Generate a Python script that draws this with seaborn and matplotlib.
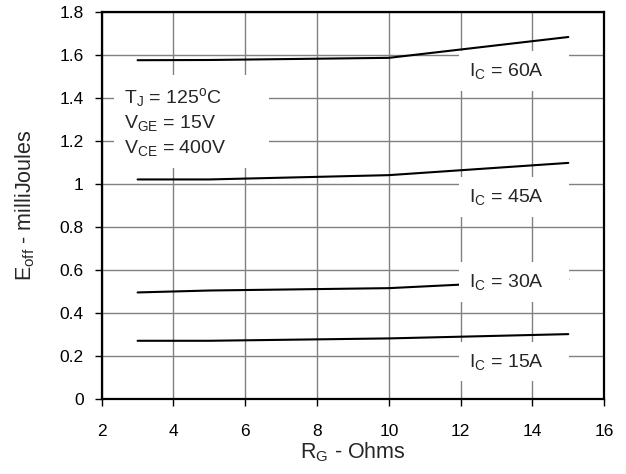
import pandas as pd
import seaborn as sb
import matplotlib.pyplot as plt

# gate resistance points and Eoff curves (mJ) per collector current
rg = [3, 5, 10, 15]
eoff_60 = [1.577, 1.578, 1.588, 1.685]
eoff_45 = [1.022, 1.022, 1.042, 1.099]
eoff_30 = [0.496, 0.505, 0.516, 0.557]
eoff_15 = [0.271, 0.271, 0.282, 0.302]

curve_names = ['60A', '45A', '30A', '15A']
label_y = [1.526, 0.941, 0.544, 0.174]

x_ticks = [2, 4, 6, 8, 10, 12, 14, 16]
y_ticks = [0, 0.2, 0.4, 0.6, 0.8, 1, 1.2, 1.4, 1.6, 1.8]
y_tick_labels = ['0', '0.2', '0.4', '0.6', '0.8', '1', '1.2', '1.4', '1.6', '1.8']

rows = []
for name, vals in zip(curve_names, [eoff_60, eoff_45, eoff_30, eoff_15]):
    for x, v in zip(rg, vals):
        rows.append({'rg': x, 'eoff': v, 'ic': name})
df = pd.DataFrame(rows)

sb.set_style('white')
plt.rcParams['font.family'] = ['Liberation Sans', 'DejaVu Sans']
plt.rcParams['mathtext.fontset'] = 'custom'
plt.rcParams['mathtext.rm'] = 'Liberation Sans'
plt.rcParams['mathtext.it'] = 'Liberation Sans'

fig = plt.figure(figsize=(6.26, 4.74), dpi=100)
ax = fig.add_axes([101.7 / 626, 1 - 399 / 474, 502.5 / 626, 386.7 / 474])

ax.grid(True, color='#808080', linewidth=1)
ax.set_axisbelow(True)

sb.lineplot(data=df, x='rg', y='eoff', hue='ic', units='ic', estimator=None,
            palette=['black'] * 4, linewidth=1.5, legend=False, ax=ax, zorder=2)

# white boxes behind the curve labels hide the grid like in the datasheet
box = dict(facecolor='white', edgecolor='none', boxstyle='square,pad=0.5')
for name, yy in zip(curve_names, label_y):
    ax.text(12.22, yy, r'I$_{\rm C}$ = ' + name + '    ', fontsize=14, va='center',
            ha='left', bbox=box, zorder=3)

ax.text(2.62, 1.29,
        'T$_{\\rm J}$ = 125$^{\\rm o}$C\nV$_{\\rm GE}$ = 15V\nV$_{\\rm CE}$ = 400V       ',
        fontsize=14, va='center', ha='left', linespacing=1.3,
        bbox=dict(facecolor='white', edgecolor='none', boxstyle='square,pad=0.5'),
        zorder=3)

ax.set_xlim(2, 16)
ax.set_ylim(0, 1.8)
ax.set_xticks(x_ticks)
ax.set_yticks(y_ticks)
ax.set_yticklabels(y_tick_labels)
ax.tick_params(axis='both', labelsize=12.5, length=5, width=1, direction='out',
               left=True, bottom=True, colors='black')
ax.tick_params(axis='x', pad=13)
ax.tick_params(axis='y', pad=8)
for s in ax.spines.values():
    s.set_color('black')
    s.set_linewidth(1.6)

ax.set_xlabel('R$_{\\rm G}$ - Ohms', fontsize=15.5, labelpad=1)
ax.set_ylabel('E$_{\\rm off}$ - milliJoules', fontsize=15.5, labelpad=16)

plt.savefig('out.png', dpi=100)
